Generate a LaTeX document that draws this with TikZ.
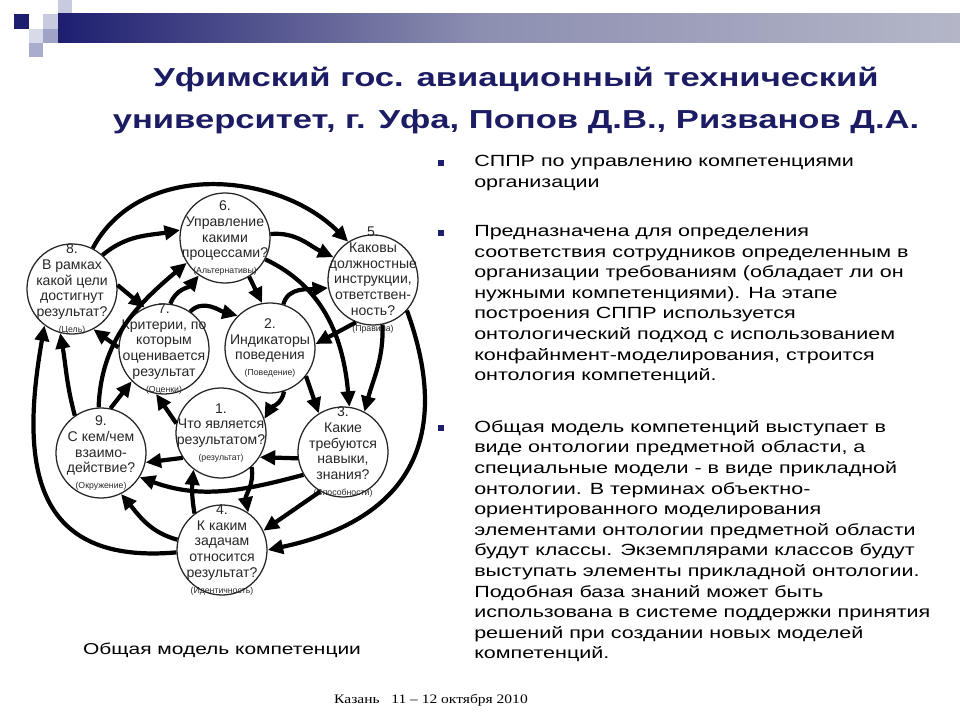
\documentclass[tikz,border=0pt]{standalone}
\usepackage{fontspec}
\setmainfont{Liberation Sans}
\newfontfamily\widefont{Liberation Sans}[FakeStretch=1.33]
\newfontfamily\wideserif{Liberation Serif}[FakeStretch=1.2]
\usepackage{tikz}
\usetikzlibrary{arrows.meta,positioning,calc}
\definecolor{navyT}{HTML}{1C1C64}
\definecolor{navyB}{HTML}{1E1E70}
\definecolor{barM}{HTML}{8C8FB0}
\definecolor{barR}{HTML}{B4B6C8}
\definecolor{sqA}{HTML}{C8CADF}
\definecolor{sqB}{HTML}{9FA3C6}
\newcommand{\sublbl}[1]{{\fontsize{6.2}{7}\selectfont(#1)}}
\tikzset{
  ring/.style={circle, draw=black!85, line width=0.9pt, minimum size=2.25cm, inner sep=0pt},
  ringtext/.style={align=center, inner sep=0pt, text=black!85,
                   font=\fontsize{10}{11.3}\selectfont},
  arr/.style={-{Triangle[length=11pt,width=10pt]}, line width=3pt, draw=black},
  para/.style={align=left, inner sep=0pt, anchor=north west,
               font=\widefont\fontsize{11.5}{14.65}\selectfont},
  bul/.style={rectangle, fill=navyB, minimum size=0.17cm, inner sep=0pt},
}

\begin{document}
\begin{tikzpicture}[x=0.025cm, y=0.025cm]
    \useasboundingbox (0,0) rectangle (960,-720);
    % slide decoration
    \fill[navyB] (14,-14) rectangle (29,-29);
    \fill[sqA] (43,-14) rectangle (58,-29);
    \fill[sqA] (58,0) rectangle (72,-29);
    \fill[sqA!70] (29,-29) rectangle (43,-43);
    \fill[sqB] (43,-29) rectangle (58,-43);
    \fill[sqB!90] (29,-43) rectangle (43,-57);
    \shade[left color=navyB, right color=barM] (58,-14) rectangle (480,-43);
    \shade[left color=barM, right color=barR] (480,-14) rectangle (960,-43);

    % title
    \node[font=\widefont\bfseries\fontsize{18.5}{29.9}\selectfont, text=navyT, align=center] (title)
      at (516,-101) {Уфимский гос. авиационный технический\\университет, г. Уфа, Попов Д.В., Ризванов Д.А.};

    % circles
    \node[ring] (c1) at (221,-433) {};
    \node[ring] (c2) at (270,-348) {};
    \node[ring] (c3) at (343,-452) {};
    \node[ring] (c4) at (222,-550) {};
    \node[ring] (c5) at (373,-280) {};
    \node[ring] (c6) at (225,-238) {};
    \node[ring] (c7) at (164,-349) {};
    \node[ring] (c8) at (72,-289) {};
    \node[ring] (c9) at (101,-453) {};
    \node[ringtext] (t1) at (c1) {1.\\Что является\\результатом?\\\sublbl{результат}};
    \node[ringtext] (t2) at (c2) {2.\\Индикаторы\\поведения\\\sublbl{Поведение}};
    \node[ringtext] (t3) at (c3) {3.\\Какие\\требуются\\навыки,\\знания?\\\sublbl{Способности}};
    \node[ringtext] (t4) at (c4) {4.\\К каким\\задачам\\относится\\результат?\\\sublbl{Идентичность}};
    \node[ringtext] (t5) at (c5) {5.\\Каковы\\должностные\\инструкции,\\ответствен-\\ность?\\\sublbl{Правила}};
    \node[ringtext] (t6) at (c6) {6.\\Управление\\какими\\процессами?\\\sublbl{Альтернативы}};
    \node[ringtext] (t7) at (c7) {7.\\Критерии, по\\которым\\оценивается\\результат\\\sublbl{Оценки}};
    \node[ringtext] (t8) at (c8) {8.\\В рамках\\какой цели\\достигнут\\результат?\\\sublbl{Цель}};
    \node[ringtext] (t9) at (c9) {9.\\С кем/чем\\взаимо-\\действие?\\\sublbl{Окружение}};

    % connectors
    \draw[arr] (c8.63) to[out=62,in=135] (c5.123);
    \draw[arr] (c8.48) to[out=40,in=190] (c6.170);
    \draw[arr] (c8.5) -- (c7.115);
    \draw[arr] (c9.93) to[out=88,in=220] (c6.213);
    \draw[arr] (c7.82) to[out=70,in=230] (c6.235);
    \draw[arr] (c7.55) to[out=45,in=165] (c2.135);
    \draw[arr] (c6.5) to[out=5,in=155] (c5.150);
    \draw[arr] (c6.-28) to[out=-25,in=95] (c3.82);
    \draw[arr] (c6.-58) -- (c2.100);
    \draw[arr] (c2.73) to[out=75,in=185] (c5.190);
    \draw[arr] (c5.-112) -- (c2.5);
    \draw[arr] (c5.-78) to[out=-88,in=75] (c3.62);
    \draw[arr] (c5.-42) to[out=-70,in=12,looseness=1.3] (c4.0);
    \draw[arr] (c2.-38) -- (c3.122);
    \draw[arr] (c2.-72) to[out=-100,in=60] (c1.18);
    \draw[arr] (c3.-172) -- (c1.-32);
    \draw[arr] (c3.-150) to[out=-165,in=-20] (c9.-32);
    \draw[arr] (c3.-120) -- (c4.25);
    \draw[arr] (c1.-147) -- (c9.-12);
    \draw[arr] (c1.168) -- (c7.-100);
    \draw[arr] (c1.-48) to[out=-80,in=100] (c4.55);
    \draw[arr] (c4.127) to[out=100,in=-95] (c1.-127);
    \draw[arr] (c4.167) to[out=165,in=-50] (c9.-64);
    \draw[arr] (c4.183) to[out=185,in=-100,looseness=1.4] (c8.-127);
    \draw[arr] (c9.125) to[out=105,in=-80] (c8.-105);
    \draw[arr] (c9.78) -- (c7.-135);
    \draw[arr] (c7.178) -- (c8.-62);

    % captions
    \node[font=\widefont\fontsize{11.2}{13}\selectfont] (cap) at (222,-650) {Общая модель компетенции};
    \node[font=\wideserif\fontsize{9.2}{11}\selectfont] (place) at (431,-700) {Казань \ \ 11 – 12 октября 2010};

    % right column
    \node[bul] (b1) at (441,-163) {};
    \node[bul] (b2) at (441,-233) {};
    \node[bul] (b3) at (441,-428) {};
    \node[para] (p1) at (474,-155) {СППР по управлению компетенциями\\организации};
    \node[para] (p2) at (474,-225) {Предназначена для определения\\соответствия сотрудников определенным в\\организации требованиям (обладает ли он\\нужными компетенциями). На этапе\\построения СППР используется\\онтологический подход с использованием\\конфайнмент-моделирования, строится\\онтология компетенций.};
    \node[para] (p3) at (474,-420) {Общая модель компетенций выступает в\\виде онтологии предметной области, а\\специальные модели - в виде прикладной\\онтологии. В терминах объектно-\\ориентированного моделирования\\элементами онтологии предметной области\\будут классы. Экземплярами классов будут\\выступать элементы прикладной онтологии.\\Подобная база знаний может быть\\использована в системе поддержки принятия\\решений при создании новых моделей\\компетенций.};
  \end{tikzpicture}
\end{document}
